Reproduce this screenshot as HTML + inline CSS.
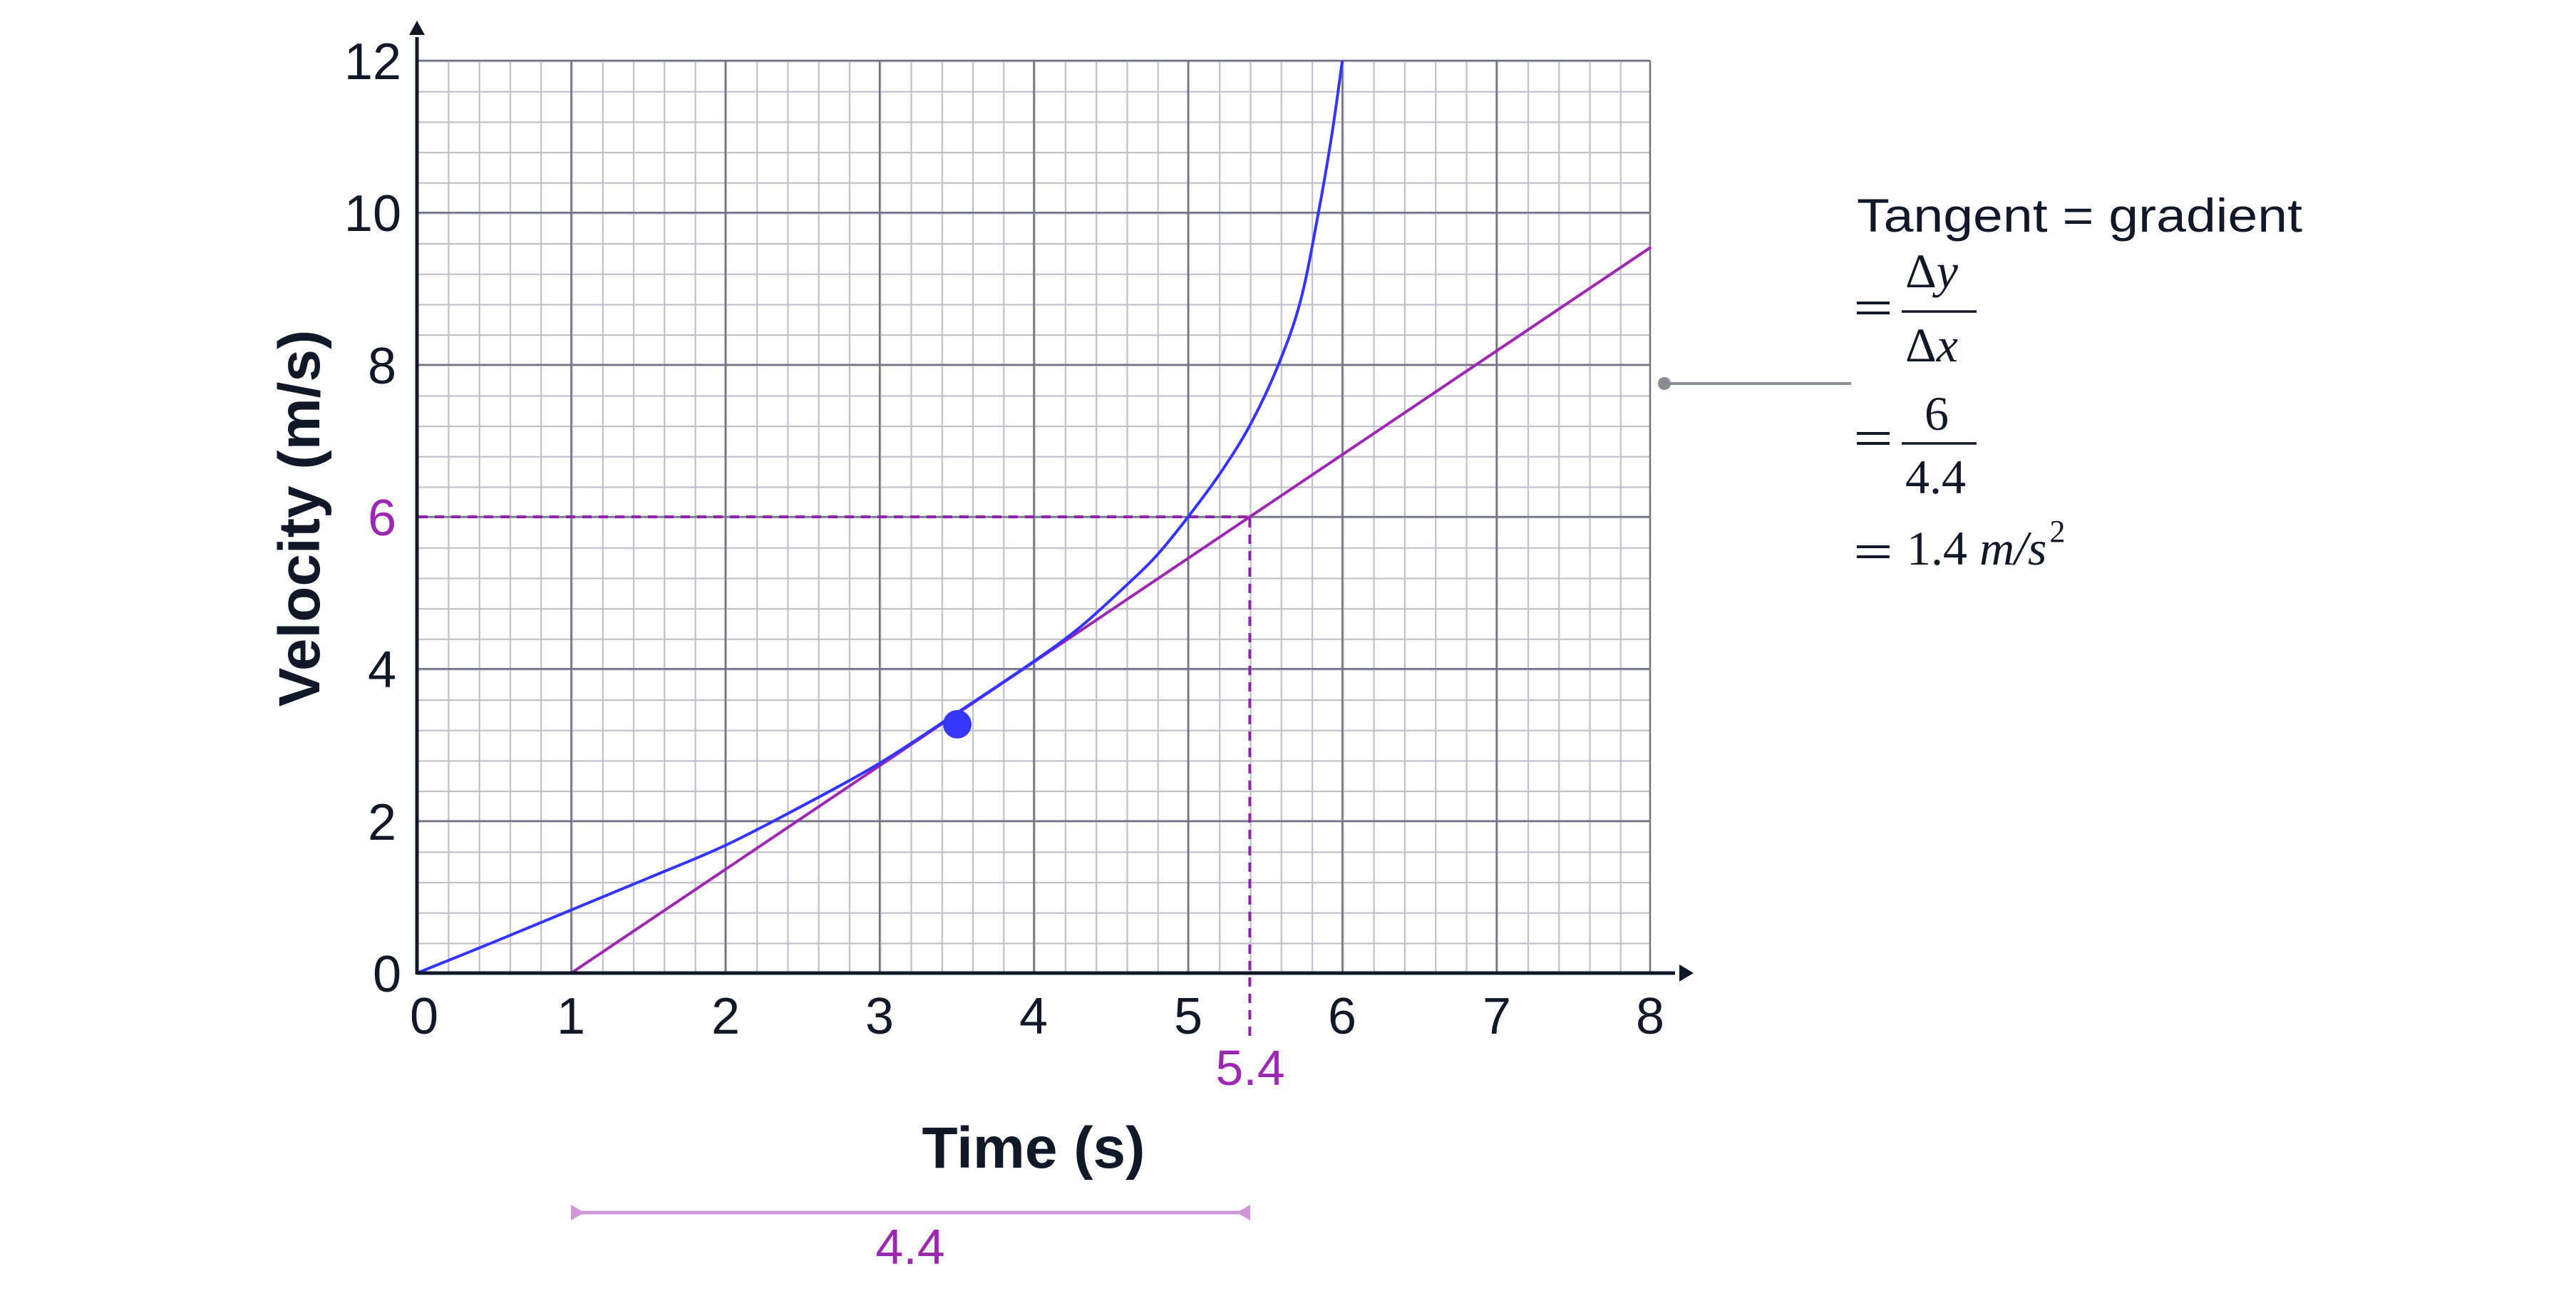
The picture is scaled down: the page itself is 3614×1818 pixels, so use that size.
<!DOCTYPE html>
<html><head><meta charset="utf-8"><style>
html,body{margin:0;padding:0;background:#fff;}
svg{display:block}
</style></head><body>
<svg width="3614" height="1818" viewBox="0 0 3614 1818" xmlns="http://www.w3.org/2000/svg">
<defs>
<pattern id="minor" x="585" y="85" width="43.275" height="42.667" patternUnits="userSpaceOnUse">
<path d="M0 1 H43.275 M1 0 V42.667" stroke="#c0c1c9" stroke-width="2.5" fill="none"/>
</pattern>
</defs>
<rect x="585" y="85" width="1730" height="1280" fill="url(#minor)"/>
<g stroke="#727384" stroke-width="2.5">
<line x1="801.4" y1="85" x2="801.4" y2="1365"/>
<line x1="1017.8" y1="85" x2="1017.8" y2="1365"/>
<line x1="1234.1" y1="85" x2="1234.1" y2="1365"/>
<line x1="1450.5" y1="85" x2="1450.5" y2="1365"/>
<line x1="1666.9" y1="85" x2="1666.9" y2="1365"/>
<line x1="1883.3" y1="85" x2="1883.3" y2="1365"/>
<line x1="2099.6" y1="85" x2="2099.6" y2="1365"/>
<line x1="2315" y1="85" x2="2315" y2="1365"/>
<line x1="585" y1="85" x2="2315" y2="85"/>
<line x1="585" y1="298.3" x2="2315" y2="298.3"/>
<line x1="585" y1="511.7" x2="2315" y2="511.7"/>
<line x1="585" y1="725" x2="2315" y2="725"/>
<line x1="585" y1="938.3" x2="2315" y2="938.3"/>
<line x1="585" y1="1151.7" x2="2315" y2="1151.7"/>
</g>
<g stroke="#8e24aa" stroke-width="4" stroke-dasharray="13 10" fill="none">
<line x1="587" y1="725" x2="1753.4" y2="725"/>
<line x1="1753.4" y1="727" x2="1753.4" y2="1462"/>
</g>
<line x1="801.4" y1="1365" x2="2316" y2="346.8" stroke="#9c27b0" stroke-width="4"/>
<path id="curve" fill="none" stroke="#3434ff" stroke-width="4" stroke-linejoin="round" d="M585,1365 L801.4,1276.5 L1017.8,1185.8 L1234.1,1070.6 L1342.3,1000.2 L1450.5,927.7 L1666.9,725 L1793.4,511.7 L1844.3,298.3 L1883.3,85"/>
<circle cx="1343" cy="1016" r="20" fill="#3636ff"/>
<g stroke="#111827" stroke-width="5">
<line x1="585" y1="1365" x2="2350" y2="1365"/>
<line x1="585" y1="1367" x2="585" y2="52"/>
</g>
<polygon points="2376,1365 2356,1353 2356,1377" fill="#111827"/>
<polygon points="585,29 574,49 596,49" fill="#111827"/>
<g font-family="Liberation Sans, sans-serif" font-size="72" fill="#111827" text-anchor="middle">
<text x="595" y="1450">0</text>
<text x="801" y="1450">1</text>
<text x="1018" y="1450">2</text>
<text x="1234" y="1450">3</text>
<text x="1450" y="1450">4</text>
<text x="1667" y="1450">5</text>
<text x="1883" y="1450">6</text>
<text x="2100" y="1450">7</text>
<text x="2315" y="1450">8</text>
</g>
<g font-family="Liberation Sans, sans-serif" font-size="72" fill="#111827" text-anchor="end">
<text x="563" y="1391">0</text>
<text x="556" y="1178">2</text>
<text x="556" y="964">4</text>
<text x="556" y="751" fill="#9c27b0">6</text>
<text x="556" y="538">8</text>
<text x="563" y="324">10</text>
<text x="563" y="111">12</text>
</g>
<text x="1754" y="1522" font-family="Liberation Sans, sans-serif" font-size="70" fill="#9c27b0" text-anchor="middle">5.4</text>
<text x="1450" y="1638" font-family="Liberation Sans, sans-serif" font-weight="bold" font-size="82" fill="#111827" text-anchor="middle">Time (s)</text>
<text transform="translate(448,727) rotate(-90)" x="0" y="0" font-family="Liberation Sans, sans-serif" font-weight="bold" font-size="82" fill="#111827" text-anchor="middle">Velocity (m/s)</text>
<line x1="805" y1="1701" x2="1750" y2="1701" stroke="#cf97d9" stroke-width="5"/>
<polygon points="801,1690 801,1712 820,1701" fill="#cf97d9"/>
<polygon points="1754,1690 1754,1712 1735,1701" fill="#cf97d9"/>
<text x="1277" y="1773" font-family="Liberation Sans, sans-serif" font-size="70" fill="#9c27b0" text-anchor="middle">4.4</text>
<line x1="2333" y1="538" x2="2597" y2="538" stroke="#8b8d94" stroke-width="4"/>
<circle cx="2335" cy="538" r="9" fill="#8b8d94"/>
<text x="2605" y="325" font-family="Liberation Sans, sans-serif" font-size="66" fill="#111827" textLength="625" lengthAdjust="spacingAndGlyphs">Tangent = gradient</text>
<g font-family="Liberation Serif, serif" font-size="68" fill="#111827">
<line x1="2605" y1="425" x2="2651" y2="425" stroke="#111827" stroke-width="4"/>
<line x1="2605" y1="439" x2="2651" y2="439" stroke="#111827" stroke-width="4"/>
<line x1="2668" y1="437" x2="2773" y2="437" stroke="#111827" stroke-width="3.5"/>
<text x="2673" y="403">Δ<tspan font-style="italic">y</tspan></text>
<text x="2673" y="507">Δ<tspan font-style="italic">x</tspan></text>
<line x1="2605" y1="608" x2="2651" y2="608" stroke="#111827" stroke-width="4"/>
<line x1="2605" y1="622" x2="2651" y2="622" stroke="#111827" stroke-width="4"/>
<line x1="2668" y1="622" x2="2773" y2="622" stroke="#111827" stroke-width="3.5"/>
<text x="2717" y="603" text-anchor="middle">6</text>
<text x="2673" y="692">4.4</text>
<line x1="2605" y1="767" x2="2651" y2="767" stroke="#111827" stroke-width="4"/>
<line x1="2605" y1="781" x2="2651" y2="781" stroke="#111827" stroke-width="4"/>
<text x="2675" y="792">1.4 <tspan font-style="italic">m/s</tspan><tspan font-size="44" dy="-32" dx="4">2</tspan></text>
</g>
</svg>
<script>
(function(){
var pts=[[0,0],[0.5,0.41],[1,0.83],[1.5,1.25],[2,1.68],[2.5,2.2],[3,2.76],[3.5,3.42],[4,4.10],[4.3,4.55],[4.6,5.1],[4.8,5.5],[5,6.0],[5.2,6.55],[5.4,7.2],[5.585,8.0],[5.73,8.85],[5.845,10],[5.93,11],[6,12]];
var P=pts.map(function(p){return [585+216.375*p[0],1365-106.667*p[1]];});
var d="M"+P[0][0].toFixed(1)+","+P[0][1].toFixed(1);
for(var i=0;i<P.length-1;i++){
var p0=P[i>0?i-1:0],p1=P[i],p2=P[i+1],p3=P[i+2<P.length?i+2:P.length-1];
var c1=[p1[0]+(p2[0]-p0[0])/6,p1[1]+(p2[1]-p0[1])/6];
var c2=[p2[0]-(p3[0]-p1[0])/6,p2[1]-(p3[1]-p1[1])/6];
d+=" C"+c1[0].toFixed(1)+","+c1[1].toFixed(1)+" "+c2[0].toFixed(1)+","+c2[1].toFixed(1)+" "+p2[0].toFixed(1)+","+p2[1].toFixed(1);
}
document.getElementById("curve").setAttribute("d",d);
})();
</script>
</body></html>
